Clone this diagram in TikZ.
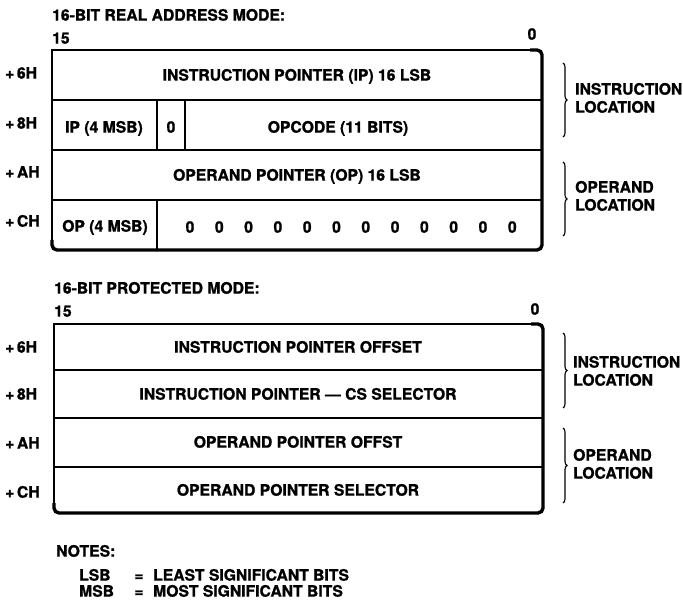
\documentclass[tikz,border=0pt]{standalone}
\usepackage{fontspec}
\setmainfont{TeX Gyre Heros}[BoldFeatures={FakeBold=1.2}]
\usetikzlibrary{positioning,decorations.pathreplacing}

\begin{document}
\begin{tikzpicture}[x=1pt,y=-1pt,
  txt/.style={font=\bfseries\fontsize{15.7}{18}\selectfont,inner sep=0pt,text height=11.3pt,text depth=0pt},
  edge/.style={line width=1.3pt},
  shade/.style={line width=3.4pt,rounded corners=5pt},
  brc/.style={decorate,decoration={brace,amplitude=4pt},line width=1.1pt}]
\useasboundingbox (0,0) rectangle (683,601);

% real address mode
\node[txt,anchor=west] (realtitle) at (52,15) {16-BIT REAL ADDRESS MODE:};
\node[txt,anchor=west] (rhi) at (52,38) {15};
\node[txt] (rlo) at (532,34) {0};
\draw[edge] (52,244) -- (52,50) -- (536,50);
\draw[shade] (530,50) -- (542,50) -- (542,250) -- (52,250) -- (52,240);
\foreach \y in {100,150,200} \draw[edge] (52,\y) -- (542,\y);
\draw[edge] (157,100) -- (157,150) (185,100) -- (185,150) (157,200) -- (157,250);
\node[txt,anchor=west] (r6) at (5,73) {+\,6H};
\node[txt,anchor=west] (r8) at (5,123) {+\,8H};
\node[txt,anchor=west] (ra) at (5,172) {+\,AH};
\node[txt,anchor=west] (rc) at (5,221) {+\,CH};
\node[txt] (iplsb) at (297,75) {INSTRUCTION POINTER (IP) 16 LSB};
\node[txt] (ipmsb) at (104,127) {IP (4 MSB)};
\node[txt] (ipzero) at (171,127) {0};
\node[txt] (opcode) at (338,127) {OPCODE (11 BITS)};
\node[txt] (oplsb) at (297,175) {OPERAND POINTER (OP) 16 LSB};
\node[txt] (opmsb) at (105,226) {OP (4 MSB)};
\foreach \i in {0,...,11}
  \node[txt] (z\i) at (190+29.3*\i,227) {0};
\coordinate (rb1a) at (563,63);
\coordinate (rb1b) at (563,137);
\coordinate (rb2a) at (563,162);
\coordinate (rb2b) at (563,236);
\draw[brc] (rb1a) -- (rb1b);
\draw[brc] (rb2a) -- (rb2b);
\node[txt,anchor=west] (rinst) at (575,89) {INSTRUCTION};
\node[txt,anchor=west] (rloc1) at (575,107) {LOCATION};
\node[txt,anchor=west] (roper) at (575,187) {OPERAND};
\node[txt,anchor=west] (rloc2) at (575,205) {LOCATION};

% protected mode
\node[txt,anchor=west] (prottitle) at (54,288) {16-BIT PROTECTED MODE:};
\node[txt,anchor=west] (phi) at (54,311) {15};
\node[txt] (plo) at (535,309) {0};
\draw[edge] (54,507) -- (54,324) -- (537,324);
\draw[shade] (531,324) -- (543,324) -- (543,513) -- (54,513) -- (54,503);
\foreach \y in {370,418,467} \draw[edge] (54,\y) -- (543,\y);
\node[txt,anchor=west] (p6) at (5,347) {+\,6H};
\node[txt,anchor=west] (p8) at (5,394) {+\,8H};
\node[txt,anchor=west] (pa) at (5,443) {+\,AH};
\node[txt,anchor=west] (pc) at (5,492) {+\,CH};
\node[txt] (ipoff) at (298,347) {INSTRUCTION POINTER OFFSET};
\node[txt] (ipsel) at (298,394) {INSTRUCTION POINTER --- CS SELECTOR};
\node[txt] (opoff) at (298,442) {OPERAND POINTER OFFST};
\node[txt] (opsel) at (298,490) {OPERAND POINTER SELECTOR};
\coordinate (pb1a) at (563,333);
\coordinate (pb1b) at (563,408);
\coordinate (pb2a) at (563,428);
\coordinate (pb2b) at (563,503);
\draw[brc] (pb1a) -- (pb1b);
\draw[brc] (pb2a) -- (pb2b);
\node[txt,anchor=west] (pinst) at (573,362) {INSTRUCTION};
\node[txt,anchor=west] (ploc1) at (573,380) {LOCATION};
\node[txt,anchor=west] (poper) at (573,455) {OPERAND};
\node[txt,anchor=west] (ploc2) at (573,473) {LOCATION};

% notes
\node[txt,anchor=west] (notes) at (56,551) {NOTES:};
\node[txt,anchor=west] (lsb) at (79,575) {LSB};
\node[txt] (lsbeq) at (139,575) {=};
\node[txt,anchor=west] (lsbtxt) at (153,575) {LEAST SIGNIFICANT BITS};
\node[txt,anchor=west] (msb) at (79,591) {MSB};
\node[txt] (msbeq) at (139,591) {=};
\node[txt,anchor=west] (msbtxt) at (153,591) {MOST SIGNIFICANT BITS};
\end{tikzpicture}
\end{document}
